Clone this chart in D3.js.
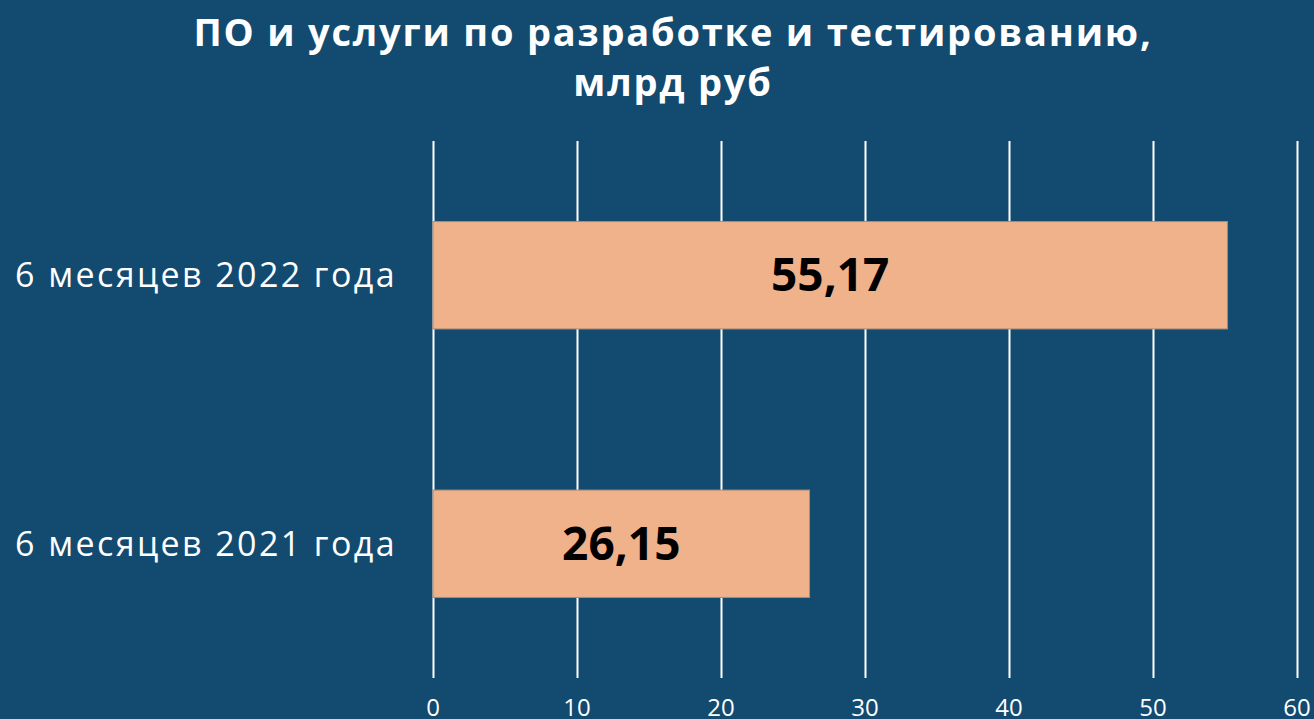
<!DOCTYPE html>
<html>
<head>
  <meta charset="utf-8">
  <title>ПО и услуги</title>
  <script src="https://cdnjs.cloudflare.com/ajax/libs/d3/7.8.5/d3.min.js"></script>
  <style>
    html, body { margin: 0; padding: 0; background: #134a6f; }
    svg { display: block; }
    .grid line { stroke: #ffffff; stroke-width: 2px; }
    .grid path { display: none; }
  </style>
</head>
<body>
<svg width="1314" height="719"></svg>
<script>
// chart data
var categories = ["6 месяцев 2022 года", "6 месяцев 2021 года"];
var values = [55.17, 26.15];
var valueLabels = ["55,17", "26,15"];
var xTicks = [0, 10, 20, 30, 40, 50, 60];
var titleLines = ["ПО и услуги по разработке и тестированию,", "млрд руб"];

var svg = d3.select("svg"),
    width = +svg.attr("width"),
    height = +svg.attr("height");

svg.append("rect")
    .attr("width", width)
    .attr("height", height)
    .attr("fill", "#134a6f");

var x = d3.scaleLinear()
    .domain([0, 60])
    .range([433, 1297]);

var y = d3.scaleBand()
    .domain(categories)
    .range([141, 678])
    .paddingInner(0.6)
    .paddingOuter(0.3);

// title
svg.append("g").selectAll("text")
    .data(titleLines)
  .enter().append("text")
    .attr("x", 673)
    .attr("y", function(d, i) { return 46 + i * 50; })
    .attr("text-anchor", "middle")
    .attr("fill", "#ffffff")
    .attr("font-family", "'Open Sans', sans-serif")
    .attr("font-weight", "bold")
    .attr("font-size", 38)
    .attr("letter-spacing", 1.8)
    .text(function(d) { return d; });

// gridlines
svg.append("g")
    .attr("class", "grid")
    .attr("transform", "translate(0,141)")
    .call(d3.axisBottom(x).tickValues(xTicks).tickSize(537).tickFormat(""));

// tick labels (cut at the bottom edge, as in the source)
svg.append("g").selectAll("text")
    .data(xTicks)
  .enter().append("text")
    .attr("x", function(d) { return x(d); })
    .attr("y", 716)
    .attr("text-anchor", "middle")
    .attr("fill", "#ffffff")
    .attr("font-family", "'Open Sans', sans-serif")
    .attr("font-size", 24)
    .text(function(d) { return d; });

// bars
svg.append("g").selectAll("rect")
    .data(values)
  .enter().append("rect")
    .attr("x", x(0))
    .attr("y", function(d, i) { return y(categories[i]); })
    .attr("width", function(d) { return x(d) - x(0); })
    .attr("height", y.bandwidth())
    .attr("fill", "#f0b28a")
    .attr("stroke", "#a98a78")
    .attr("stroke-width", 1);

// value labels
svg.append("g").selectAll("text")
    .data(values)
  .enter().append("text")
    .attr("x", function(d) { return (x(0) + x(d)) / 2; })
    .attr("y", function(d, i) { return y(categories[i]) + y.bandwidth() / 2; })
    .attr("dy", "0.35em")
    .attr("text-anchor", "middle")
    .attr("fill", "#000000")
    .attr("font-family", "'Open Sans', sans-serif")
    .attr("font-weight", "bold")
    .attr("font-size", 46)
    .text(function(d, i) { return valueLabels[i]; });

// category labels
svg.append("g").selectAll("text")
    .data(categories)
  .enter().append("text")
    .attr("x", 397)
    .attr("y", function(d) { return y(d) + y.bandwidth() / 2; })
    .attr("dy", "0.35em")
    .attr("text-anchor", "end")
    .attr("fill", "#ffffff")
    .attr("font-family", "'Open Sans', sans-serif")
    .attr("font-size", 34)
    .attr("letter-spacing", 2.4)
    .text(function(d) { return d; });
</script>
</body>
</html>
